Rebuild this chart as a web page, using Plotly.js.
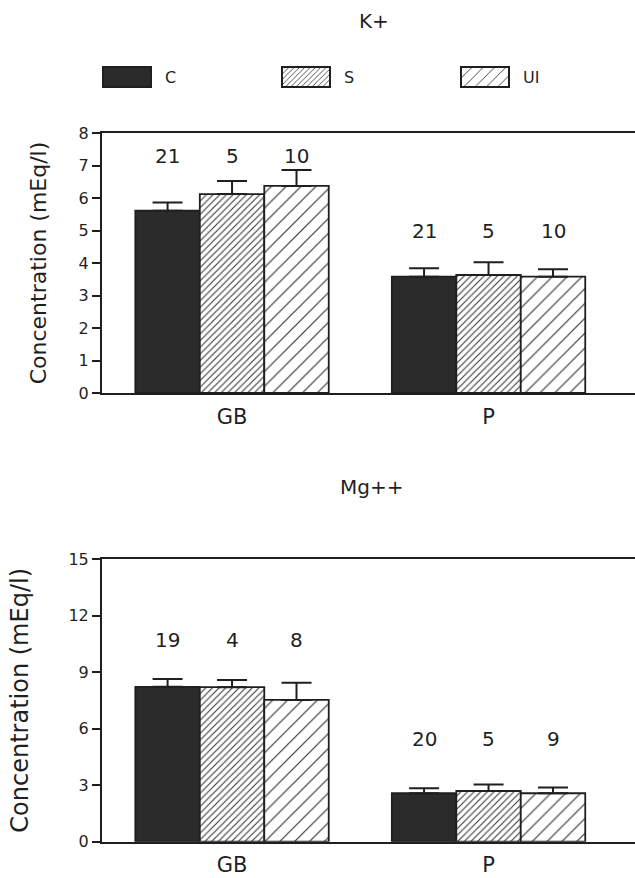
<!DOCTYPE html>
<html>
<head>
<meta charset="utf-8">
<script src="https://cdn.plot.ly/plotly-3.0.1.min.js"></script>
<style>html,body{margin:0;padding:0;background:#fff;}</style>
</head>
<body>
<div id="chart" style="width:635px;height:878px;"></div>
<script>
// ---- data ----
const sites = ['GB', 'P'];
const groups = ['C', 'S', 'UI'];

// K+ (mEq/l)
const kC = [5.61, 3.58];
const kS = [6.12, 3.63];
const kUI = [6.37, 3.58];
const kC_err = [0.25, 0.26];
const kS_err = [0.40, 0.39];
const kUI_err = [0.49, 0.23];
const kN_C = [21, 21];
const kN_S = [5, 5];
const kN_UI = [10, 10];

// Mg++ (mEq/l)
const mgC = [8.22, 2.57];
const mgS = [8.20, 2.69];
const mgUI = [7.52, 2.57];
const mgC_err = [0.41, 0.27];
const mgS_err = [0.38, 0.35];
const mgUI_err = [0.92, 0.30];
const mgN_C = [19, 20];
const mgN_S = [4, 5];
const mgN_UI = [8, 9];

// ---- styling ----
const INK = '#1f1f1f';
const FONT = 'DejaVu Sans, Arial, sans-serif';
const BARGAP = 0.246;
const fills = [
  {color: '#2b2b2b', pattern: {shape: ''}},
  {color: 'white', pattern: {shape: '/', size: 4.7, solidity: 0.22, fgcolor: '#333', bgcolor: 'white', fillmode: 'replace'}},
  {color: 'white', pattern: {shape: '/', size: 10.5, solidity: 0.11, fgcolor: '#333', bgcolor: 'white', fillmode: 'replace'}}
];

function mkBar(name, vals, errs, k, xa, ya, showleg) {
  return {
    type: 'bar', name: name, x: sites, y: vals, xaxis: xa, yaxis: ya,
    legendgroup: name, showlegend: showleg,
    marker: {color: fills[k].color, pattern: fills[k].pattern, line: {color: INK, width: 1.8}},
    error_y: {type: 'data', array: errs, arrayminus: errs.map(() => 0), symmetric: false,
              color: INK, thickness: 2, width: 15},
    hoverinfo: 'y'
  };
}

const data = [
  mkBar('C', kC, kC_err, 0, 'x', 'y', true),
  mkBar('S', kS, kS_err, 1, 'x', 'y', true),
  mkBar('UI', kUI, kUI_err, 2, 'x', 'y', true),
  mkBar('C', mgC, mgC_err, 0, 'x2', 'y2', false),
  mkBar('S', mgS, mgS_err, 1, 'x2', 'y2', false),
  mkBar('UI', mgUI, mgUI_err, 2, 'x2', 'y2', false)
];

// n-count labels above the bars
const barW = (1 - BARGAP) / 3;
const annotations = [];
function addN(counts, levels, xref, yref) {
  counts.forEach((arr, k) => {
    arr.forEach((n, i) => {
      annotations.push({
        x: i + (k - 1) * barW, y: levels[i], xref: xref, yref: yref,
        text: String(n), showarrow: false, yanchor: 'middle',
        font: {family: FONT, size: 20, color: INK}
      });
    });
  });
}
addN([kN_C, kN_S, kN_UI], [7.28, 5.0], 'x', 'y');
addN([mgN_C, mgN_S, mgN_UI], [10.7, 5.43], 'x2', 'y2');

annotations.push({text: 'K+', xref: 'paper', yref: 'paper', x: 374 / 635, y: 1 - 21 / 878,
  xanchor: 'center', yanchor: 'middle',
  showarrow: false, font: {family: FONT, size: 20, color: INK}});
annotations.push({text: 'Mg++', xref: 'paper', yref: 'paper', x: 371 / 635, y: 1 - 487 / 878,
  xanchor: 'center', yanchor: 'middle',
  showarrow: false, font: {family: FONT, size: 20, color: INK}});

const xBase = {
  type: 'category', range: [-0.507, 1.571], showline: true, linewidth: 2, linecolor: INK,
  mirror: true, ticks: '', showgrid: false, zeroline: false, fixedrange: true,
  tickfont: {family: FONT, size: 21, color: INK}, domain: [102 / 635, 1]
};
const yBase = {
  showline: true, linewidth: 2, linecolor: INK, ticks: 'outside', ticklen: 8, tickwidth: 2,
  tickcolor: INK, showgrid: false, zeroline: false, fixedrange: true,
  tickfont: {family: FONT, size: 16, color: INK}
};

const layout = {
  width: 635, height: 878, margin: {l: 0, r: 0, t: 0, b: 0},
  paper_bgcolor: 'white', plot_bgcolor: 'white',
  barmode: 'group', bargap: BARGAP, bargroupgap: 0,
  showlegend: true,
  legend: {orientation: 'h', x: 89 / 635, xanchor: 'left', y: 1 - 77 / 878, yanchor: 'middle',
    itemwidth: 66, entrywidth: 98, entrywidthmode: 'pixels', bgcolor: 'rgba(0,0,0,0)',
    font: {family: FONT, size: 16, color: INK}, itemclick: false, itemdoubleclick: false},
  xaxis: Object.assign({}, xBase, {anchor: 'y', ticklabelstandoff: 4}),
  xaxis2: Object.assign({}, xBase, {anchor: 'y2', ticklabelstandoff: 3}),
  yaxis: Object.assign({}, yBase, {anchor: 'x', domain: [1 - 393 / 878, 1 - 133 / 878], range: [0, 8], dtick: 1,
    title: {text: 'Concentration (mEq/l)', standoff: 26, font: {family: FONT, size: 22, color: INK}}}),
  yaxis2: Object.assign({}, yBase, {anchor: 'x2', domain: [1 - 841.7 / 878, 1 - 559 / 878], range: [0, 15], dtick: 3,
    title: {text: 'Concentration (mEq/l)', standoff: 33, font: {family: FONT, size: 24, color: INK}}}),
  annotations: annotations
};

Plotly.newPlot('chart', data, layout, {displayModeBar: false, staticPlot: true}).then(function () {
  // enlarge legend swatches to match the wide boxes of the original figure
  document.querySelectorAll('.legend .legendpoints path').forEach(function (p) {
    p.setAttribute('d', 'M24,10H-24V-10H24Z');
    p.style.strokeWidth = '2px';
    p.style.stroke = INK;
  });
});
</script>
</body>
</html>
